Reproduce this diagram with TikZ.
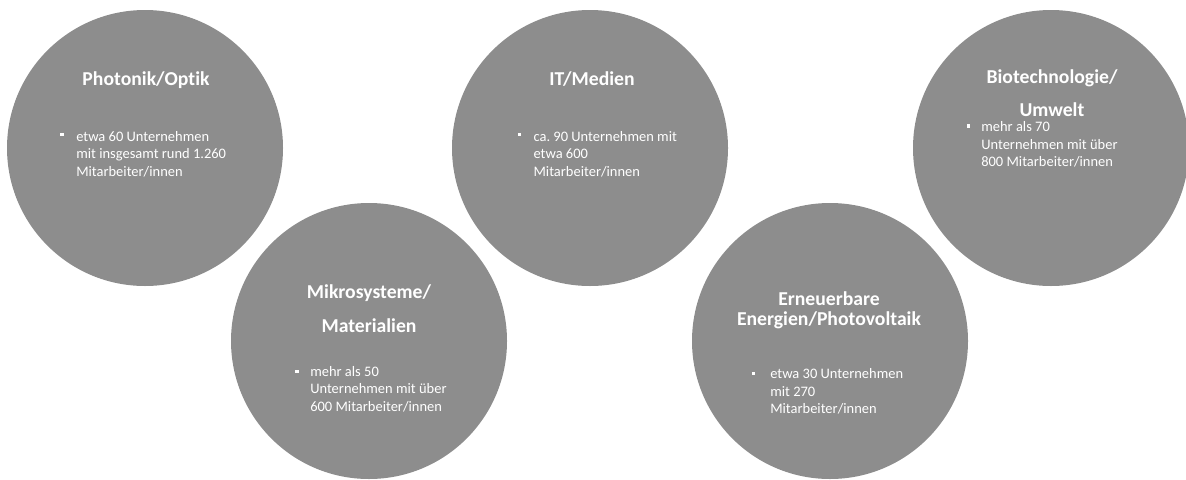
\documentclass[tikz,border=0pt]{standalone}
\usepackage{fontspec}
\setmainfont{Carlito}[Ligatures={NoCommon}]
\usepackage{xcolor}
\definecolor{kreisgrau}{RGB}{141,141,141}
\usepackage{tikz}
\usetikzlibrary{positioning}
\frenchspacing

\tikzset{
  titel/.style={text=white, align=center, inner sep=0pt, anchor=base,
    font=\bfseries\fontsize{14}{14.2}\selectfont},
  liste/.style={text=white, align=left, inner sep=0pt, anchor=north west,
    font=\fontsize{10.3}{12.4}\selectfont},
  punkt/.style={fill=white, inner sep=0pt, minimum size=2.5pt}
}

\begin{document}
\begin{tikzpicture}
\useasboundingbox (0,0) rectangle (29.65,-11.975);

\fill[kreisgrau] (3.625,-3.7)	circle [radius=3.45];
\fill[kreisgrau] (9.225,-8.525)	circle [radius=3.45];
\fill[kreisgrau] (14.75,-3.7)	circle [radius=3.45];
\fill[kreisgrau] (20.75,-8.525)	circle [radius=3.45];
\fill[kreisgrau] (26.275,-3.7)	circle [radius=3.45];

% Photonik
\node[titel] (photonik) at (3.65,-2.125) {Photonik/Optik};
\node[punkt] (p1) at (1.55,-3.3625) {};
\node[liste] (photonik-text) at (1.9,-3.275) {etwa 60 Unternehmen\\mit insgesamt rund 1.260\\Mitarbeiter/innen};

% Mikrosysteme (base = letzte Zeile)
\node[titel] (mikro) at (9.225,-8.31) {Mikrosysteme/\\[10pt]Materialien};
\node[punkt] (p2) at (7.425,-9.2925) {};
\node[liste] (mikro-text) at (7.75,-9.15) {mehr als 50\\Unternehmen mit über\\600 Mitarbeiter/innen};

% IT
\node[titel] (it) at (14.8,-2.125) {IT/Medien};
\node[punkt] (p3) at (12.9875,-3.3625) {};
\node[liste] (it-text) at (13.333,-3.275) {ca. 90 Unternehmen mit\\etwa 600\\Mitarbeiter/innen};

% Erneuerbare
\node[titel] (energie) at (20.725,-8.125) {Erneuerbare\\Energien/Photovoltaik};
\node[punkt] (p4) at (18.8425,-9.3325) {};
\node[liste] (energie-text) at (19.25,-9.2125) {etwa 30 Unternehmen\\mit 270\\Mitarbeiter/innen};

% Biotechnologie
\node[titel] (bio) at (26.3,-2.91) {Biotechnologie/\\[9pt]Umwelt};
\node[punkt] (p5) at (24.2075,-3.15) {};
\node[liste] (bio-text) at (24.525,-3.04) {mehr als 70\\Unternehmen mit über\\800 Mitarbeiter/innen};
\end{tikzpicture}
\end{document}
